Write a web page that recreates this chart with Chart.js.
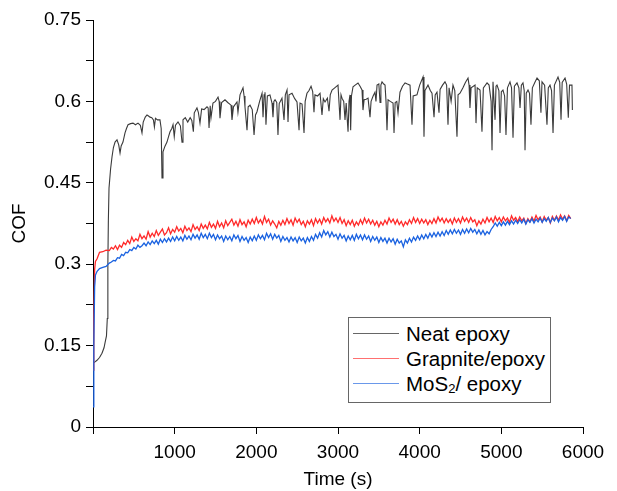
<!DOCTYPE html>
<html>
<head>
<meta charset="utf-8">
<script src="https://cdn.jsdelivr.net/npm/chart.js@4.4.1/dist/chart.umd.min.js"></script>
<style>
    body { margin: 0; background: #fff; }
    #wrap { position: relative; width: 617px; height: 491px; }
    #legend {
        position: absolute; left: 348px; top: 317px; width: 201px; height: 84px;
        border: 1px solid #666; background: #fff;
        font: 20.5px "Liberation Sans", Arial, sans-serif; color: #000;
    }
    .row { position: absolute; left: 0; height: 25px; display: flex; align-items: center; white-space: nowrap; }
    .sw { width: 46px; height: 1px; margin-left: 4px; margin-right: 7px; }
    sub { font-size: 13px; position: relative; top: 5px; line-height: 0; vertical-align: baseline; }
</style>
</head>
<body>
<div id="wrap">
    <canvas id="chart" width="617" height="491"></canvas>
    <div id="legend">
        <div class="row" style="top:3px"><span class="sw" style="background:#666"></span>Neat epoxy</div>
        <div class="row" style="top:28px"><span class="sw" style="background:#ff7070"></span>Grapnite/epoxy</div>
        <div class="row" style="top:53px"><span class="sw" style="background:#6a98ea"></span>MoS<sub>2</sub>/ epoxy</div>
    </div>
</div>
<script>
// axis ticks
const xTicks = [0, 1000, 2000, 3000, 4000, 5000, 6000];
const xTickLabels = ['', '1000', '2000', '3000', '4000', '5000', '6000'];
const yTicks = [0, 0.075, 0.15, 0.225, 0.3, 0.375, 0.45, 0.525, 0.6, 0.675, 0.75];
const yTickLabels = ['0', '', '0.15', '', '0.3', '', '0.45', '', '0.6', '', '0.75'];

// [time (s), COF]
const neatEpoxy = [[0,0.118],[25,0.12],[49,0.123],[80,0.128],[110,0.136],[135,0.146],[147,0.155],[165,0.168],[175,0.2],[182,0.3],[188,0.38],[196,0.44],[215,0.475],[233,0.498],[250,0.515],[270,0.525],[294,0.529],[315,0.52],[331,0.505],[345,0.518],[367,0.525],[392,0.542],[410,0.55],[429,0.557],[460,0.559],[490,0.56],[520,0.557],[551,0.56],[580,0.556],[600,0.542],[615,0.562],[640,0.571],[661,0.575],[680,0.573],[698,0.571],[720,0.57],[740,0.566],[752,0.553],[765,0.569],[790,0.566],[820,0.566],[835,0.55],[845,0.459],[857,0.507],[880,0.517],[906,0.525],[925,0.535],[943,0.544],[965,0.55],[980,0.557],[995,0.535],[1010,0.556],[1041,0.562],[1070,0.555],[1090,0.525],[1102,0.566],[1130,0.57],[1160,0.562],[1190,0.57],[1210,0.565],[1229,0.544],[1240,0.579],[1273,0.588],[1290,0.58],[1310,0.56],[1330,0.586],[1360,0.585],[1396,0.59],[1410,0.588],[1421,0.551],[1435,0.592],[1445,0.57],[1469,0.597],[1500,0.6],[1531,0.608],[1545,0.6],[1555,0.569],[1575,0.598],[1616,0.603],[1650,0.598],[1690,0.593],[1702,0.566],[1720,0.59],[1763,0.599],[1775,0.58],[1800,0.612],[1837,0.625],[1850,0.61],[1861,0.59],[1886,0.547],[1900,0.59],[1923,0.593],[1950,0.585],[1972,0.538],[1990,0.575],[2008,0.581],[2040,0.6],[2070,0.615],[2082,0.571],[2095,0.612],[2106,0.617],[2118,0.557],[2135,0.61],[2167,0.612],[2192,0.597],[2204,0.571],[2215,0.6],[2229,0.603],[2250,0.598],[2265,0.538],[2280,0.596],[2314,0.606],[2339,0.566],[2355,0.612],[2376,0.621],[2388,0.562],[2400,0.612],[2437,0.615],[2470,0.605],[2498,0.599],[2523,0.547],[2535,0.597],[2560,0.595],[2584,0.542],[2598,0.6],[2620,0.615],[2645,0.62],[2670,0.628],[2690,0.618],[2706,0.58],[2718,0.612],[2750,0.61],[2780,0.615],[2804,0.575],[2820,0.605],[2841,0.599],[2870,0.606],[2890,0.582],[2905,0.612],[2927,0.621],[2960,0.625],[3000,0.63],[3025,0.566],[3037,0.612],[3049,0.606],[3070,0.6],[3086,0.566],[3100,0.597],[3123,0.544],[3135,0.6],[3147,0.612],[3155,0.547],[3165,0.61],[3184,0.627],[3210,0.63],[3245,0.634],[3270,0.628],[3294,0.621],[3306,0.584],[3320,0.603],[3345,0.604],[3368,0.606],[3392,0.571],[3405,0.6],[3430,0.61],[3453,0.617],[3465,0.6],[3478,0.63],[3500,0.632],[3515,0.598],[3525,0.63],[3539,0.636],[3560,0.632],[3576,0.63],[3588,0.6],[3600,0.547],[3613,0.603],[3640,0.6],[3674,0.597],[3686,0.542],[3700,0.598],[3720,0.6],[3735,0.579],[3759,0.617],[3790,0.628],[3821,0.634],[3850,0.632],[3882,0.63],[3906,0.557],[3920,0.61],[3967,0.612],[4000,0.63],[4041,0.645],[4053,0.535],[4065,0.62],[4102,0.63],[4130,0.62],[4151,0.615],[4176,0.571],[4190,0.612],[4212,0.617],[4237,0.579],[4250,0.622],[4280,0.63],[4310,0.636],[4330,0.63],[4347,0.557],[4360,0.625],[4385,0.6],[4408,0.63],[4430,0.62],[4457,0.535],[4470,0.612],[4494,0.615],[4530,0.625],[4560,0.635],[4592,0.643],[4605,0.63],[4616,0.588],[4630,0.625],[4678,0.63],[4690,0.56],[4705,0.625],[4739,0.621],[4763,0.544],[4780,0.625],[4825,0.634],[4850,0.63],[4875,0.6],[4886,0.51],[4898,0.636],[4923,0.566],[4935,0.628],[4947,0.63],[4970,0.62],[4984,0.542],[5000,0.618],[5020,0.621],[5040,0.61],[5057,0.538],[5075,0.625],[5106,0.636],[5125,0.625],[5143,0.533],[5160,0.628],[5192,0.634],[5215,0.625],[5229,0.588],[5245,0.63],[5265,0.634],[5280,0.62],[5290,0.51],[5305,0.615],[5327,0.621],[5345,0.615],[5363,0.557],[5380,0.625],[5410,0.635],[5437,0.643],[5465,0.638],[5485,0.579],[5498,0.636],[5530,0.63],[5559,0.557],[5575,0.625],[5596,0.63],[5615,0.62],[5633,0.542],[5650,0.63],[5694,0.645],[5715,0.635],[5731,0.566],[5745,0.635],[5780,0.643],[5800,0.632],[5820,0.57],[5835,0.63],[5865,0.63],[5870,0.584]];

const grapniteEpoxy = [[0,0.105],[10,0.2],[20,0.29],[30,0.305],[50,0.31],[80,0.322],[120,0.323],[160,0.326],[200,0.325],[225,0.331],[250,0.328],[275,0.334],[300,0.327],[325,0.335],[350,0.331],[375,0.34],[400,0.336],[425,0.344],[450,0.338],[475,0.35],[500,0.342],[525,0.347],[550,0.343],[575,0.355],[600,0.347],[625,0.352],[650,0.346],[675,0.36],[700,0.35],[725,0.357],[750,0.351],[775,0.362],[800,0.353],[825,0.359],[850,0.365],[875,0.354],[900,0.358],[925,0.367],[950,0.356],[975,0.364],[1000,0.359],[1025,0.369],[1050,0.361],[1075,0.366],[1100,0.358],[1125,0.37],[1150,0.362],[1175,0.367],[1200,0.36],[1225,0.373],[1250,0.364],[1275,0.369],[1300,0.362],[1325,0.374],[1350,0.366],[1375,0.372],[1400,0.365],[1425,0.377],[1450,0.368],[1475,0.374],[1500,0.366],[1525,0.379],[1550,0.369],[1575,0.376],[1600,0.367],[1625,0.38],[1650,0.371],[1675,0.377],[1700,0.383],[1725,0.372],[1750,0.379],[1775,0.37],[1800,0.382],[1825,0.373],[1850,0.378],[1875,0.369],[1900,0.381],[1925,0.374],[1950,0.383],[1975,0.375],[2000,0.386],[2025,0.376],[2050,0.382],[2075,0.374],[2100,0.388],[2125,0.377],[2150,0.383],[2175,0.372],[2200,0.38],[2225,0.374],[2250,0.367],[2275,0.379],[2300,0.372],[2325,0.381],[2350,0.373],[2375,0.384],[2400,0.375],[2425,0.382],[2450,0.372],[2475,0.385],[2500,0.377],[2525,0.383],[2550,0.373],[2575,0.379],[2600,0.369],[2625,0.38],[2650,0.374],[2675,0.382],[2700,0.371],[2725,0.384],[2750,0.376],[2775,0.383],[2800,0.374],[2825,0.386],[2850,0.378],[2875,0.384],[2900,0.376],[2925,0.389],[2950,0.379],[2975,0.385],[3000,0.377],[3025,0.386],[3050,0.375],[3075,0.382],[3100,0.371],[3125,0.38],[3150,0.373],[3175,0.381],[3200,0.37],[3225,0.378],[3250,0.372],[3275,0.382],[3300,0.374],[3325,0.385],[3350,0.376],[3375,0.383],[3400,0.374],[3425,0.381],[3450,0.372],[3475,0.379],[3500,0.369],[3525,0.378],[3550,0.372],[3575,0.381],[3600,0.374],[3625,0.385],[3650,0.377],[3675,0.383],[3700,0.374],[3725,0.382],[3750,0.373],[3775,0.379],[3800,0.37],[3825,0.378],[3850,0.373],[3875,0.382],[3900,0.375],[3925,0.386],[3950,0.377],[3975,0.384],[4000,0.375],[4025,0.383],[4050,0.376],[4075,0.382],[4100,0.373],[4125,0.381],[4150,0.375],[4175,0.384],[4200,0.376],[4225,0.387],[4250,0.379],[4275,0.385],[4300,0.376],[4325,0.384],[4350,0.377],[4375,0.383],[4400,0.374],[4425,0.385],[4450,0.377],[4475,0.384],[4500,0.376],[4525,0.387],[4550,0.379],[4575,0.385],[4600,0.377],[4625,0.386],[4650,0.378],[4675,0.382],[4700,0.371],[4725,0.38],[4750,0.374],[4775,0.383],[4800,0.376],[4825,0.386],[4850,0.378],[4875,0.385],[4900,0.377],[4925,0.388],[4950,0.38],[4975,0.386],[5000,0.378],[5025,0.387],[5050,0.38],[5075,0.385],[5100,0.377],[5125,0.389],[5150,0.381],[5175,0.386],[5200,0.378],[5225,0.387],[5250,0.38],[5275,0.385],[5300,0.375],[5325,0.384],[5350,0.378],[5375,0.387],[5400,0.379],[5425,0.39],[5450,0.382],[5475,0.387],[5500,0.378],[5525,0.388],[5550,0.381],[5575,0.386],[5600,0.376],[5625,0.388],[5650,0.381],[5675,0.389],[5700,0.381],[5725,0.391],[5750,0.383],[5775,0.389],[5800,0.38],[5825,0.39],[5850,0.384]];

const mos2Epoxy = [[0,0.037],[10,0.15],[20,0.258],[30,0.28],[50,0.287],[80,0.292],[120,0.294],[160,0.296],[200,0.302],[225,0.304],[250,0.307],[275,0.306],[300,0.312],[325,0.311],[350,0.318],[375,0.316],[400,0.322],[425,0.321],[450,0.327],[475,0.325],[500,0.331],[525,0.328],[550,0.335],[575,0.331],[600,0.334],[625,0.339],[650,0.334],[675,0.341],[700,0.336],[725,0.343],[750,0.338],[775,0.344],[800,0.337],[825,0.346],[850,0.34],[875,0.347],[900,0.341],[925,0.348],[950,0.342],[975,0.35],[1000,0.343],[1025,0.351],[1050,0.344],[1075,0.35],[1100,0.343],[1125,0.353],[1150,0.346],[1175,0.352],[1200,0.345],[1225,0.355],[1250,0.348],[1275,0.354],[1300,0.346],[1325,0.357],[1350,0.349],[1375,0.355],[1400,0.347],[1425,0.357],[1450,0.349],[1475,0.355],[1500,0.345],[1525,0.354],[1550,0.347],[1575,0.352],[1600,0.342],[1625,0.352],[1650,0.345],[1675,0.351],[1700,0.343],[1725,0.354],[1750,0.347],[1775,0.353],[1800,0.342],[1825,0.351],[1850,0.344],[1875,0.349],[1900,0.34],[1925,0.35],[1950,0.343],[1975,0.352],[2000,0.344],[2025,0.354],[2050,0.347],[2075,0.353],[2100,0.345],[2125,0.357],[2150,0.349],[2175,0.356],[2200,0.346],[2225,0.355],[2250,0.348],[2275,0.353],[2300,0.342],[2325,0.351],[2350,0.344],[2375,0.349],[2400,0.341],[2425,0.35],[2450,0.343],[2475,0.349],[2500,0.34],[2525,0.35],[2550,0.343],[2575,0.348],[2600,0.339],[2625,0.349],[2650,0.342],[2675,0.351],[2700,0.344],[2725,0.355],[2750,0.348],[2775,0.358],[2800,0.35],[2825,0.362],[2850,0.354],[2875,0.36],[2900,0.35],[2925,0.359],[2950,0.351],[2975,0.355],[3000,0.346],[3025,0.356],[3050,0.348],[3075,0.353],[3100,0.343],[3125,0.352],[3150,0.345],[3175,0.353],[3200,0.344],[3225,0.355],[3250,0.347],[3275,0.354],[3300,0.345],[3325,0.354],[3350,0.346],[3375,0.352],[3400,0.342],[3425,0.351],[3450,0.344],[3475,0.35],[3500,0.34],[3525,0.349],[3550,0.342],[3575,0.348],[3600,0.339],[3625,0.348],[3650,0.341],[3675,0.347],[3700,0.337],[3725,0.346],[3750,0.339],[3775,0.343],[3800,0.332],[3825,0.345],[3850,0.339],[3875,0.348],[3900,0.341],[3925,0.35],[3950,0.344],[3975,0.352],[4000,0.345],[4025,0.354],[4050,0.347],[4075,0.355],[4100,0.348],[4125,0.357],[4150,0.35],[4175,0.358],[4200,0.351],[4225,0.359],[4250,0.352],[4275,0.36],[4300,0.353],[4325,0.362],[4350,0.355],[4375,0.363],[4400,0.356],[4425,0.364],[4450,0.357],[4475,0.363],[4500,0.355],[4525,0.364],[4550,0.357],[4575,0.365],[4600,0.358],[4625,0.366],[4650,0.359],[4675,0.364],[4700,0.356],[4725,0.363],[4750,0.355],[4775,0.362],[4800,0.354],[4825,0.36],[4850,0.356],[4875,0.364],[4900,0.369],[4925,0.376],[4950,0.37],[4975,0.377],[5000,0.371],[5025,0.378],[5050,0.372],[5075,0.379],[5100,0.373],[5125,0.38],[5150,0.374],[5175,0.381],[5200,0.375],[5225,0.382],[5250,0.376],[5275,0.383],[5300,0.374],[5325,0.382],[5350,0.377],[5375,0.384],[5400,0.376],[5425,0.383],[5450,0.378],[5475,0.385],[5500,0.377],[5525,0.384],[5550,0.379],[5575,0.386],[5600,0.377],[5625,0.385],[5650,0.38],[5675,0.387],[5700,0.378],[5725,0.386],[5750,0.381],[5775,0.388],[5800,0.379],[5825,0.387],[5850,0.384]];

const toXY = arr => arr.map(p => ({ x: p[0], y: p[1] }));
const tickFont = { family: '"Liberation Sans", Arial, sans-serif', size: 19 };

new Chart(document.getElementById('chart'), {
    type: 'line',
    data: {
        datasets: [
            { label: 'Neat epoxy', data: toXY(neatEpoxy), borderColor: '#3a3a3a', borderWidth: 1.1, order: 3 },
            { label: 'Grapnite/epoxy', data: toXY(grapniteEpoxy), borderColor: '#ff2a2a', borderWidth: 1.3, order: 2 },
            { label: 'MoS2/ epoxy', data: toXY(mos2Epoxy), borderColor: '#1a62e0', borderWidth: 1.3, order: 1 }
        ]
    },
    options: {
        responsive: false,
        animation: false,
        layout: { padding: { left: 0, right: 34, top: 20, bottom: 0 } },
        elements: {
            point: { radius: 0 },
            line: { borderWidth: 1, tension: 0 }
        },
        plugins: { legend: { display: false }, tooltip: { enabled: false } },
        scales: {
            x: {
                type: 'linear', min: 0, max: 6000,
                afterBuildTicks: s => { s.ticks = xTicks.map(v => ({ value: v })); },
                afterFit: s => { s.height = 64; },
                ticks: { color: '#000', font: tickFont, padding: 7, maxRotation: 0, autoSkip: false,
                    callback: (v, i) => xTickLabels[i] },
                grid: { drawOnChartArea: false, tickLength: 7, tickColor: '#000' },
                border: { color: '#000', width: 1 },
                title: { display: true, text: 'Time (s)', color: '#000', font: tickFont, padding: { top: 2, bottom: 0 } }
            },
            y: {
                type: 'linear', min: 0, max: 0.75,
                afterBuildTicks: s => { s.ticks = yTicks.map(v => ({ value: v })); },
                afterFit: s => { s.width = 93; },
                ticks: { color: '#000', font: tickFont, padding: 5, autoSkip: false,
                    callback: (v, i) => yTickLabels[i] },
                grid: { drawOnChartArea: false, tickLength: 7, tickColor: '#000' },
                border: { color: '#000', width: 1 },
                title: { display: true, text: 'COF', color: '#000', font: tickFont, padding: { top: 8, bottom: 0 } }
            }
        }
    }
});
</script>
</body>
</html>
